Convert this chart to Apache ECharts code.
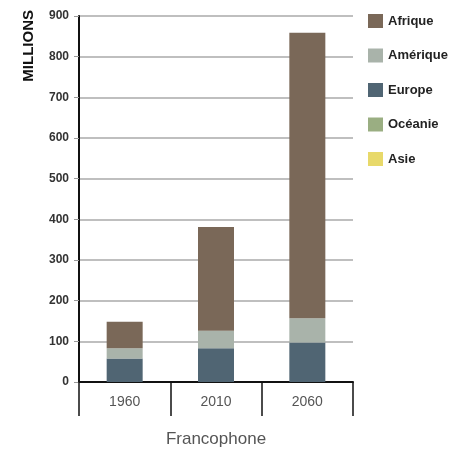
<!DOCTYPE html>
<html>
<head>
<meta charset="utf-8">
<script src="https://cdn.jsdelivr.net/npm/echarts@6/dist/echarts.min.js"></script>
<style>
  html, body { margin: 0; padding: 0; background: #fff; }
  #chart { width: 452px; height: 452px; }
</style>
</head>
<body>
<div id="chart"></div>
<script>
var years = ['1960', '2010', '2060'];
var europe = [58, 83, 97];
var amerique = [25, 43, 60];
var afrique = [65, 255, 702];
var oceanie = [0, 0, 0];
var asie = [0, 0, 0];

var chart = echarts.init(document.getElementById('chart'));

//une série empilée
function serie(name, data, color) {
    return {
        name: name,
        type: 'bar',
        stack: 'total',
        barWidth: 36,
        data: data,
        itemStyle: {color: color}
    };
}

var option = {
    animation: false,
    textStyle: {fontFamily: 'Liberation Sans, Arial, sans-serif'},
    grid: {left: 79, right: 99, top: 16, bottom: 70, outerBoundsMode: 'none', containLabel: false},
    legend: {
        orient: 'vertical',
        left: 363,
        top: 9,
        itemWidth: 15,
        itemHeight: 14,
        itemGap: 20.5,
        icon: 'rect',
        data: ['Afrique', 'Amérique', 'Europe', 'Océanie', 'Asie'],
        textStyle: {fontSize: 13, fontWeight: 'bold', color: '#222'}
    },
    xAxis: {
        type: 'category',
        data: years,
        name: 'Francophone',
        nameLocation: 'middle',
        nameGap: 49,
        nameTextStyle: {fontSize: 17, color: '#555'},
        axisLine: {lineStyle: {color: '#111', width: 2}},
        axisTick: {show: true, length: 34, lineStyle: {color: '#111', width: 1.5}},
        axisLabel: {fontSize: 14, color: '#555', margin: 13}
    },
    yAxis: {
        type: 'value',
        min: 0,
        max: 900,
        interval: 100,
        axisLine: {show: true, lineStyle: {color: '#111', width: 2}},
        axisTick: {show: true, length: 5, lineStyle: {color: '#999'}},
        axisLabel: {fontSize: 12, fontWeight: 'bold', color: '#333', margin: 10},
        splitLine: {lineStyle: {color: '#aaa', width: 1.5}}
    },
    graphic: [{
        type: 'text',
        left: 21,
        top: 10,
        rotation: Math.PI / 2,
        style: {text: 'MILLIONS', fontSize: 15, fontWeight: 'bold', fill: '#111',
            fontFamily: 'Liberation Sans, Arial, sans-serif'}
    }],
    series: [
        serie('Europe', europe, '#506573'),
        serie('Amérique', amerique, '#a9b3aa'),
        serie('Afrique', afrique, '#7a6858'),
        serie('Océanie', oceanie, '#9aae82'),
        serie('Asie', asie, '#e8d96a')
    ]
};
chart.setOption(option);
</script>
</body>
</html>
